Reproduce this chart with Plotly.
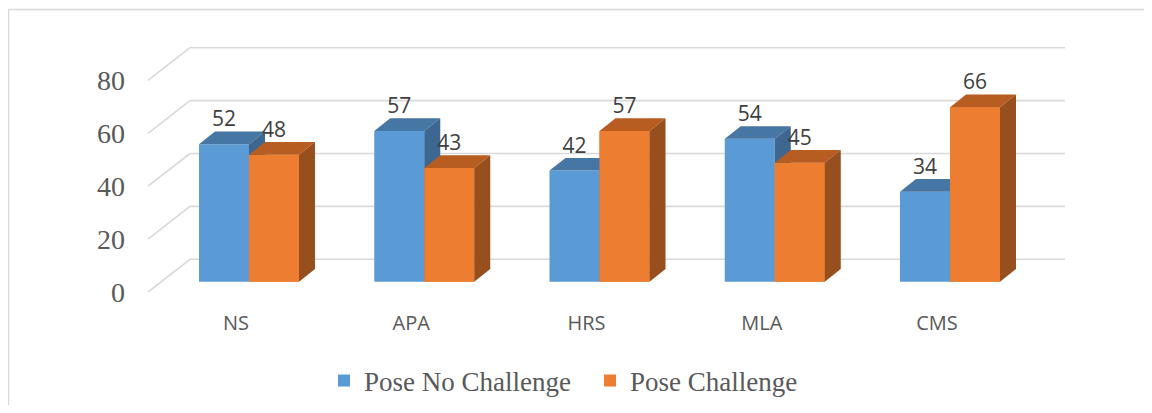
import plotly.graph_objects as go

# ---------------- data ----------------
categories = ["NS", "APA", "HRS", "MLA", "CMS"]
no_challenge = [52, 57, 42, 54, 34]
challenge = [48, 43, 57, 45, 66]
series_names = ["Pose No Challenge", "Pose Challenge"]
y_ticks = [0, 20, 40, 60, 80]

# ---------------- styling / geometry (axis units) ----------------
PX_X = 175.25          # pixels per category step
PX_Y = 2.645           # pixels per value unit
BAR_W = 50 / PX_X      # bar width
DEP_X = 16 / PX_X      # 3D depth (x)
DEP_Y = 12.7 / PX_Y    # 3D depth (y)
FRONT_Y = 10.3 / PX_Y  # front plane below bar fronts
BACK_Y = 22.4 / PX_Y   # back wall above bar fronts
GRID_FRONT_X = (148 - 249) / PX_X
GRID_BACK_X0 = (190 - 249) / PX_X
GRID_BACK_X1 = (1065 - 249) / PX_X
LABEL_SHIFT_X = 13 / PX_X

BLUE, BLUE_TOP, BLUE_SIDE = "#5B9BD5", "#4676A3", "#3D6691"
ORANGE, ORANGE_TOP, ORANGE_SIDE = "#ED7D31", "#B85D22", "#984F1E"

OFF = 8                      # browser body margin
PAGE_W, PAGE_H = 1152, 413
W, H = PAGE_W - 2 * OFF, PAGE_H - 2 * OFF
PL, PR, PT, PB = 126, 1072, 17, 313      # plot area in page pixels
L, T = PL - OFF, PT - OFF
R, B = W - (PR - OFF), H - (PB - OFF)
plot_w = PR - PL
plot_h = PB - PT
x0 = -(249 - PL) / PX_X
x1 = x0 + plot_w / PX_X
y0 = -(PB - 281.7) / PX_Y
y1 = y0 + plot_h / PX_Y

idx = list(range(len(categories)))


def faces(vals, off):
    fx, fy, tx, ty, sx, sy = [], [], [], [], [], []
    for i, v in zip(idx, vals):
        a = i + off
        b = a + BAR_W
        fx += [a, b, b, a, a, None]
        fy += [0, 0, v, v, 0, None]
        tx += [a, a + DEP_X, b + DEP_X, b, a, None]
        ty += [v, v + DEP_Y, v + DEP_Y, v, v, None]
        sx += [b, b + DEP_X, b + DEP_X, b, b, None]
        sy += [0, DEP_Y, v + DEP_Y, v, 0, None]
    return (fx, fy), (tx, ty), (sx, sy)


def poly(xy, color):
    return go.Scatter(x=xy[0], y=xy[1], fill="toself", fillcolor=color,
                      mode="none", hoverinfo="skip", showlegend=False)


fig = go.Figure()

# front faces as real bars
fig.add_trace(go.Bar(x=idx, y=no_challenge, width=BAR_W, offset=-BAR_W,
                     marker=dict(color=BLUE, line=dict(width=0)),
                     name=series_names[0], hoverinfo="skip"))
fig.add_trace(go.Bar(x=idx, y=challenge, width=BAR_W, offset=0,
                     marker=dict(color=ORANGE, line=dict(width=0)),
                     name=series_names[1], hoverinfo="skip"))

bf, bt, bs = faces(no_challenge, -BAR_W)
of, ot, os_ = faces(challenge, 0)
fig.add_trace(poly(bt, BLUE_TOP))
fig.add_trace(poly(bs, BLUE_SIDE))
fig.add_trace(poly(of, ORANGE))
fig.add_trace(poly(ot, ORANGE_TOP))
fig.add_trace(poly(os_, ORANGE_SIDE))

# data labels
lab_x = [i - BAR_W / 2 for i in idx] + [i + BAR_W / 2 for i in idx]
lab_y = [v + DEP_Y for v in no_challenge] + [v + DEP_Y for v in challenge]
lab_t = [str(v) for v in no_challenge] + [str(v) for v in challenge]
fig.add_trace(go.Scatter(x=lab_x, y=lab_y, text=lab_t, mode="text",
                         textposition="top center",
                         textfont=dict(family="Open Sans", size=21, color="#404040"),
                         hoverinfo="skip", showlegend=False, cliponaxis=False))

# invisible trace for category / value axes on the front plane
fig.add_trace(go.Scatter(x=categories, y=y_ticks, xaxis="x2", yaxis="y2",
                         mode="markers", marker=dict(opacity=0),
                         hoverinfo="skip", showlegend=False))

# gridlines (back wall + floor diagonals)
shapes = []
for t in y_ticks:
    shapes.append(dict(type="line", xref="x", yref="y", layer="below",
                       x0=GRID_FRONT_X, y0=t - FRONT_Y,
                       x1=GRID_BACK_X0, y1=t + BACK_Y,
                       line=dict(color="#D9D9D9", width=1.6)))
    shapes.append(dict(type="line", xref="x", yref="y", layer="below",
                       x0=GRID_BACK_X0, y0=t + BACK_Y,
                       x1=GRID_BACK_X1, y1=t + BACK_Y,
                       line=dict(color="#D9D9D9", width=1.6)))

# chart frame (left + top border)
fx_p = (8.5 - PL) / plot_w
fy_p = (PB - 9.5) / plot_h
shapes.append(dict(type="path", xref="paper", yref="paper", layer="below",
                   path=f"M {fx_p},-1 L {fx_p},{fy_p} L 1.5,{fy_p}",
                   line=dict(color="#D9D9D9", width=1.5)))

fig.update_layout(
    width=W, height=H, autosize=False,
    margin=dict(l=L, r=R, t=T, b=B, pad=0, autoexpand=False),
    paper_bgcolor="white", plot_bgcolor="white",
    barmode="overlay",
    shapes=shapes,
    xaxis=dict(type="linear", range=[x0, x1], visible=False, fixedrange=True,
               automargin=False),
    yaxis=dict(type="linear", range=[y0, y1], visible=False, fixedrange=True,
               automargin=False),
    xaxis2=dict(type="category", categoryorder="array", categoryarray=categories,
                overlaying="x", anchor="y2", side="bottom", automargin=False,
                range=[x0 + LABEL_SHIFT_X, x1 + LABEL_SHIFT_X],
                showgrid=False, showline=False, zeroline=False, ticks="",
                ticklabelstandoff=-4,
                tickfont=dict(family="Open Sans", size=20, color="#595959")),
    yaxis2=dict(type="linear", overlaying="y", anchor="x2", side="left",
                range=[y0 + FRONT_Y, y1 + FRONT_Y], automargin=False,
                tickvals=y_ticks, showgrid=False, showline=False, zeroline=False,
                ticks="",
                tickfont=dict(family="Liberation Serif", size=28, color="#595959")),
    legend=dict(orientation="h", xref="container", yref="container",
                x=(590 - OFF) / W, xanchor="center",
                y=1 - (381 - OFF) / H, yanchor="middle",
                entrywidth=221, entrywidthmode="pixels",
                font=dict(family="Liberation Serif", size=27, color="#595959"),
                itemclick=False, itemdoubleclick=False),
    showlegend=True,
)

fig.write_html("out.html")
